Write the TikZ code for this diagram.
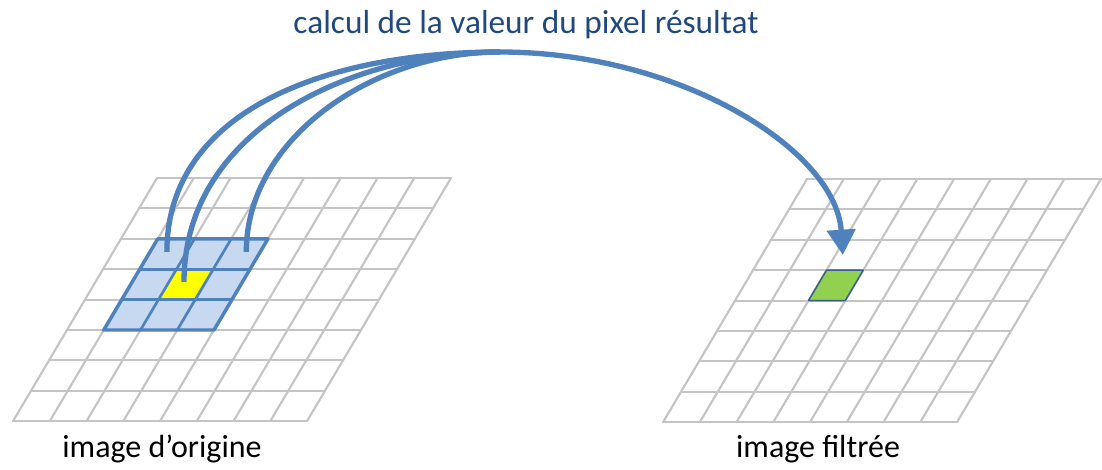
\documentclass[tikz,border=0pt]{standalone}
\usepackage{fontspec}
\setmainfont{Carlito}
\usetikzlibrary{arrows.meta}
\definecolor{accent}{HTML}{4F81BD}
\definecolor{titreblue}{HTML}{1F497D}
\definecolor{fenfill}{HTML}{C6D9F1}
\definecolor{gridgray}{HTML}{C4C4C4}
\definecolor{pixvert}{HTML}{92D050}
\definecolor{pixjaune}{HTML}{FFFF00}
\definecolor{bordvert}{HTML}{385D8A}

\begin{document}
\begin{tikzpicture}[x=0.75pt,y=-0.75pt,
  gridline/.style={draw=gridgray,line width=1.6pt,line cap=round},
  fen/.style={draw=accent,line width=2pt,line cap=round},
  fleche/.style={draw=accent,line width=4pt},
  legende/.style={font=\fontsize{24}{28}\selectfont,anchor=base},
  titre/.style={legende,font=\fontsize{25}{30}\selectfont,text=titreblue}]
  \useasboundingbox (0,0) rectangle (1102,469);

  % image d'origine, fenetre 3x3 autour du pixel jaune
  \begin{scope}[shift={(157,178)},x={(27.56pt,0pt)},y={(-13.5pt,-22.8pt)}]
    \fill[fenfill] (1,2) -- (4,2) -- (4,5) -- (1,5) -- cycle;
    \fill[pixjaune] (2,3) -- (3,3) -- (3,4) -- (2,4) -- cycle;
    \foreach \k in {0,...,8} {
      \draw[gridline] (\k,0) -- (\k,8);
      \draw[gridline] (0,\k) -- (8,\k);
    }
    \foreach \k in {2,3} {
      \draw[fen] (\k,2) -- (\k,5);
      \draw[fen] (1,\k+1) -- (4,\k+1);
    }
    \draw[fen,line width=2.6pt,line join=round] (1,2) -- (4,2) -- (4,5) -- (1,5) -- cycle;
    \coordinate (srcA) at (1.46,2.43);
    \coordinate (srcB) at (2.41,3.42);
    \coordinate (srcC) at (3.62,2.43);
  \end{scope}

  % image filtree, pixel resultat en vert
  \begin{scope}[shift={(807,179)},x={(27.56pt,0pt)},y={(-13.5pt,-22.8pt)}]
    \foreach \k in {0,...,8} {
      \draw[gridline] (\k,0) -- (\k,8);
      \draw[gridline] (0,\k) -- (8,\k);
    }
    \filldraw[fill=pixvert,draw=bordvert,line width=1.1pt,line join=round]
      (2,3) -- (3,3) -- (3,4) -- (2,4) -- cycle;
    \coordinate (cible) at (2.2,2.5);
  \end{scope}

  % fleches
  \coordinate (sommet) at (500,52);
  \draw[fleche] (srcA) .. controls +(0,-143) and +(-170,0) .. (sommet);
  \draw[fleche] (srcB) .. controls +(0,-152) and +(-150,0) .. (sommet);
  \draw[fleche] (srcC) .. controls +(0,-113) and +(-128,0) .. (sommet);
  \draw[fleche,-{Triangle[width=21pt,length=19pt]}]
    (sommet) .. controls +(180,0) and +(-7,-105) .. (cible);

  \node[titre] (calcul) at (526,33) {calcul de la valeur du pixel résultat};
  \node[legende] (orig) at (162,457) {image d’origine};
  \node[legende] (filt) at (818,457) {image filtrée};
\end{tikzpicture}
\end{document}
